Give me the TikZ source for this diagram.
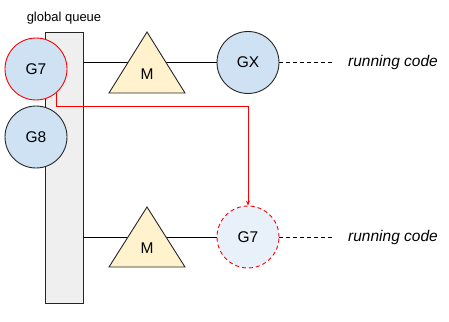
\documentclass[tikz,border=0pt]{standalone}
\usepackage{fontspec}
\setmainfont{Liberation Sans}
\usetikzlibrary{arrows.meta}

\definecolor{gblue}{HTML}{CFE2F3}
\definecolor{gpale}{HTML}{E8F0FA}
\definecolor{gyellow}{HTML}{FFF2CC}
\definecolor{ggrey}{HTML}{EFEFEF}
\definecolor{gred}{HTML}{FF0000}

\tikzset{
  gor/.style={circle, draw=black!85, fill=gblue, minimum size=62pt, inner sep=0pt, font=\fontsize{15.5}{18}\selectfont},
  mach/.style={draw=black!85, fill=gyellow},
  note/.style={font=\fontsize{15.5}{18}\selectfont\itshape},
  dots/.style={dash pattern=on 4pt off 3pt}
}

\begin{document}
\begin{tikzpicture}[x=1pt, y=-1pt, line width=0.9pt, >={Stealth[length=5pt,width=4pt]}]

\useasboundingbox (0,0) rectangle (449,321);

% Global queue
\node[draw=black!85, fill=ggrey, minimum width=38pt, minimum height=271pt, inner sep=0pt] (queue) at (64,167.5) {};
\node[font=\fontsize{13}{15}\selectfont] (qlabel) at (64,18) {global queue};

% Goroutines in the queue
\node[gor, draw=gred] (g7) at (36,69) {G7};
\node[gor] (g8) at (36,137) {G8};

% First M running GX
\node[gor] (gx) at (248,62.5) {GX};
\draw (queue.east |- gx) -- (gx);
\draw[mach] (147,32) -- (185,93) -- (109,93) -- cycle;
\node[font=\fontsize{15.5}{18}\selectfont] (m1) at (147,74) {M};
\coordinate (e1) at (333,62.5);
\draw[dots] (gx) -- (e1);
\node[note] (run1) at (393,62.5) {running code};

% Second M picking up G7
\node[gor, fill=gpale, draw=gred, dots] (g7b) at (248,237) {G7};
\draw (queue.east |- g7b) -- (g7b);
\draw[mach] (147,207) -- (185,267) -- (109,267) -- cycle;
\node[font=\fontsize{15.5}{18}\selectfont] (m2) at (147,248) {M};
\coordinate (e2) at (333,237);
\draw[dots] (g7b) -- (e2);
\node[note] (run2) at (393,237) {running code};

% Steal path
\draw[->, gred] (g7.-50) |- (248,106) -- (g7b.north);

\end{tikzpicture}
\end{document}
